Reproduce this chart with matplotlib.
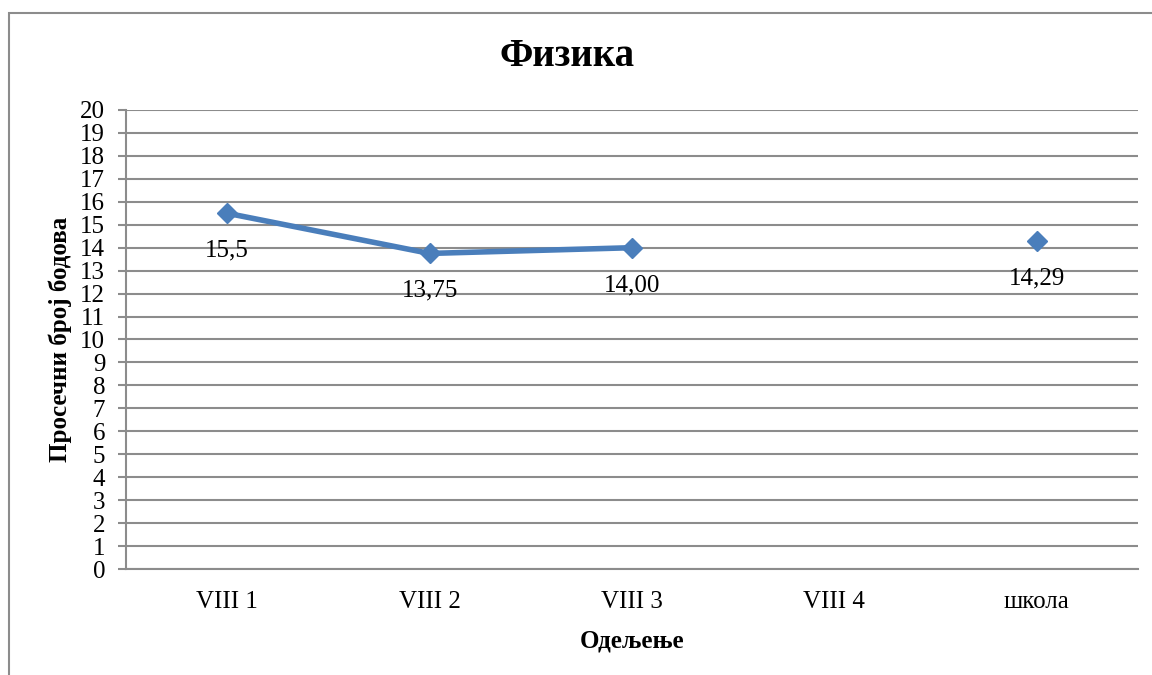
import numpy as np
import matplotlib.pyplot as plt
from matplotlib.patches import Rectangle

categories = ["VIII 1", "VIII 2", "VIII 3", "VIII 4", "школа"]
values = [15.5, 13.75, 14.00, np.nan, 14.29]
value_labels = ["15,5", "13,75", "14,00", "", "14,29"]
y_ticks = list(range(0, 21))

plt.rcParams['font.family'] = ['Liberation Serif', 'DejaVu Serif']

W, H = 1152, 675
fig = plt.figure(figsize=(W / 100, H / 100), dpi=100)
ax = fig.add_axes([126 / W, 1 - 569 / H, (1138 - 126) / W, (569 - 110) / H])

# outer chart border (runs off the right and bottom of the image)
fig.patches.append(Rectangle((9 / W, -0.05), 1.2, 1 - 13 / H + 0.05,
                             transform=fig.transFigure, fill=False,
                             edgecolor='#8c8c8c', linewidth=1.5))

x = np.arange(len(categories))
ax.plot(x, values, color='#4a7ebb', linewidth=4, marker='D', markersize=10,
        markeredgecolor='#4a7ebb', solid_joinstyle='round', zorder=3)
for xi, v, lab in zip(x, values, value_labels):
    if lab:
        ax.annotate(lab, (xi, v), xytext=(0, -27), textcoords='offset points',
                    ha='center', va='center', fontsize=18)

ax.set_xlim(-0.5, len(categories) - 0.5)
ax.set_ylim(0, 20)
ax.set_yticks(y_ticks)
ax.set_xticks(x)
ax.set_xticklabels(categories)
ax.yaxis.grid(True, color='#8c8c8c', linewidth=1.5)
ax.set_axisbelow(True)
for s in ['top', 'right']:
    ax.spines[s].set_visible(False)
for s in ['left', 'bottom']:
    ax.spines[s].set_color('#8c8c8c')
    ax.spines[s].set_linewidth(1.5)
ax.tick_params(axis='y', length=6, width=1.5, color='#8c8c8c', labelsize=18, pad=9)
ax.tick_params(axis='x', length=0, labelsize=18, pad=16)

ax.set_ylabel("Просечни број бодова", fontsize=18, fontweight='bold', labelpad=6)
ax.set_xlabel("Одељење", fontsize=18, fontweight='bold', labelpad=12)
fig.text(567 / W, 1 - 57 / H, "Физика", ha='center', va='center',
         fontsize=28, fontweight='bold')

fig.savefig("out.png", dpi=100)
